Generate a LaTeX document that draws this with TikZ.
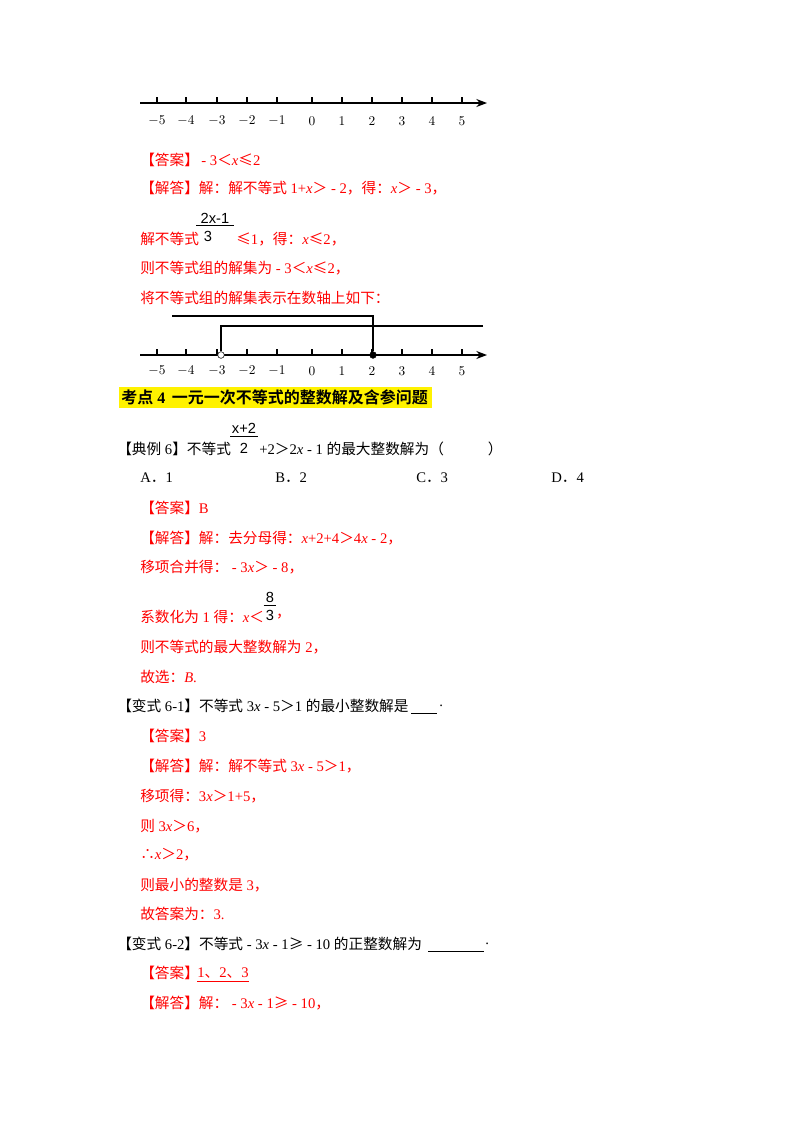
\documentclass[tikz,border=0pt]{standalone}
\usepackage{fontspec}
\setmainfont{Liberation Serif}
\newfontfamily\cjk{Noto Sans CJK SC}
\newfontfamily\cjkb{Noto Sans CJK SC Bold}
\newfontfamily\lsans{Liberation Sans}
\newcommand{\zh}[1]{{\cjk #1}}
\newcommand{\vx}{\textit{x}}
\definecolor{ans}{RGB}{255,0,0}
\usetikzlibrary{arrows.meta}
\begin{document}
\begin{tikzpicture}[x=0.75pt,y=-0.75pt,
  txt/.style={anchor=west,inner sep=0pt,font=\fontsize{11}{13}\selectfont},
  red/.style={txt,text=ans},
  lab/.style={inner sep=0pt,font=\fontsize{10}{12}\selectfont},
  axis/.style={line width=0.9pt,-{Stealth[length=8pt,width=6pt]}},
  fr/.style={inner sep=0pt,font=\lsans\fontsize{11}{13}\selectfont}]
\useasboundingbox (0,0) rectangle (800,1132);
% number line 1
\coordinate (a1) at (140,103); \coordinate (b1) at (487,103);
\draw[axis] (a1) -- (b1);
\foreach \v/\px in {-5/157,-4/186,-3/217,-2/247,-1/277,0/312,1/342,2/372,3/402,4/432,5/462}{
  \draw[line width=0.8pt] (\px,103) -- (\px,97);
  \node[lab] (t\px) at (\px,121) {$\v$};}
\node[red] (ans1) at (140,160) {\zh{【答案】}\,- 3\zh{＜}\vx\zh{≤}2};
\node[red] (sol1) at (140,188) {\zh{【解答】解：解不等式} 1+\vx\zh{＞} - 2\zh{，得：}\vx\zh{＞} - 3\zh{，}};
\node[fr,text=black] (fn1) at (215,218) {2x-1};
\draw (196,225) -- (234,225);
\node[fr,text=black] (fd1) at (208,236) {3};
\node[red] (l3a) at (140,239) {\zh{解不等式}};
\node[red] (l3b) at (236,239) {\zh{≤}1\zh{，得：}\vx\zh{≤}2\zh{，}};
\node[red] (l4) at (140,268) {\zh{则不等式组的解集为} - 3\zh{＜}\vx\zh{≤}2\zh{，}};
\node[red] (l5) at (140,298) {\zh{将不等式组的解集表示在数轴上如下：}};
% number line 2
\coordinate (a2) at (140,355); \coordinate (b2) at (487,355);
\draw[axis] (a2) -- (b2);
\foreach \v/\px in {-5/157,-4/186,-3/217,-2/247,-1/277,0/312,1/342,2/372,3/402,4/432,5/462}{
  \draw[line width=0.8pt] (\px,355) -- (\px,349);
  \node[lab] (u\px) at (\px,371) {$\v$};}
\coordinate (p1) at (172,316); \coordinate (p2) at (373,316);
\coordinate (q1) at (483,326); \coordinate (q2) at (221,326);
\node[circle,draw,fill=black,inner sep=0pt,minimum size=5pt] (c2) at (373,355) {};
\node[circle,draw,fill=white,inner sep=0pt,minimum size=5pt] (c1) at (221,355) {};
\draw[line width=0.9pt] (p1) -- (p2) -- (c2);
\draw[line width=0.9pt] (q1) -- (q2) -- (c1);
% heading
\fill[yellow] (119,387) rectangle (432,408);
\node[txt,font=\fontsize{12}{14}\selectfont] (head) at (121,397) {{\cjkb 考点} \textbf{4} \,{\cjkb 一元一次不等式的整数解及含参问题}};
% example 6
\node[fr] (fn2) at (244,428) {x+2};
\draw (230,436) -- (258,436);
\node[fr] (fd2) at (244,448) {2};
\node[txt] (ex6a) at (117,449) {\zh{【典例} 6\zh{】不等式}};
\node[txt] (ex6b) at (259,449) {+2\zh{＞}2\vx{} - 1 \zh{的最大整数解为（\quad\quad\quad ）}};
\node[txt] (oa) at (140,478) {A\zh{．}1};
\node[txt] (ob) at (275,478) {B\zh{．}2};
\node[txt] (oc) at (416,478) {C\zh{．}3};
\node[txt] (od) at (551,478) {D\zh{．}4};
\node[red] (e1) at (140,508) {\zh{【答案】}B};
\node[red] (e2) at (140,538) {\zh{【解答】解：去分母得：}\vx+2+4\zh{＞}4\vx{} - 2\zh{，}};
\node[red] (e3) at (140,567) {\zh{移项合并得：} - 3\vx\zh{＞} - 8\zh{，}};
\node[red] (e4) at (140,617) {\zh{系数化为} 1 \zh{得：}\vx\zh{＜}};
\node[fr,text=black,anchor=west] (fn3) at ([xshift=1pt]e4.east |- 0,597) {8};
\draw ([xshift=-1.5pt]fn3.west |- 0,605) -- ([xshift=1.5pt]fn3.east |- 0,605);
\node[fr,text=black] (fd3) at (fn3 |- 0,615) {3};
\node[red] (e4b) at ([xshift=1pt]fd3.east |- 0,617) {\zh{，}};
\node[red] (e5) at (140,647) {\zh{则不等式的最大整数解为} 2\zh{，}};
\node[red] (e6) at (140,677) {\zh{故选：}\textit{B}.};
% 6-1
\node[txt] (v1) at (117,706) {\zh{【变式} 6-1\zh{】不等式} 3\vx{} - 5\zh{＞}1 \zh{的最小整数解是}};
\coordinate (bl1) at (411,713); \coordinate (br1) at (437,713);
\draw (bl1) -- (br1);
\node[txt] (dot1) at (439,706) {.};
\node[red] (f1) at (140,736) {\zh{【答案】}3};
\node[red] (f2) at (140,766) {\zh{【解答】解：解不等式} 3\vx{} - 5\zh{＞}1\zh{，}};
\node[red] (f3) at (140,796) {\zh{移项得：}3\vx\zh{＞}1+5\zh{，}};
\node[red] (f4) at (140,826) {\zh{则} 3\vx\zh{＞}6\zh{，}};
\node[red] (f5) at (140,855) {\zh{∴}\vx\zh{＞}2\zh{，}};
\node[red] (f6) at (140,885) {\zh{则最小的整数是} 3\zh{，}};
\node[red] (f7) at (140,914) {\zh{故答案为：}3.};
% 6-2
\node[txt] (v2) at (117,944) {\zh{【变式} 6-2\zh{】不等式} - 3\vx{} - 1\zh{≥} - 10 \zh{的正整数解为}};
\coordinate (bl2) at (428,951); \coordinate (br2) at (484,951);
\draw (bl2) -- (br2);
\node[txt] (dot2) at (485,944) {.};
\node[red] (g1) at (140,973) {\zh{【答案】}};
\node[red,anchor=west] (g1b) at (197,973) {1\zh{、}2\zh{、}3};
\draw[ans] ([yshift=-2.25pt]g1b.south west) -- ([yshift=-2.25pt]g1b.south east);
\node[red] (g2) at (140,1003) {\zh{【解答】解：} - 3\vx{} - 1\zh{≥} - 10\zh{，}};
\end{tikzpicture}
\end{document}
